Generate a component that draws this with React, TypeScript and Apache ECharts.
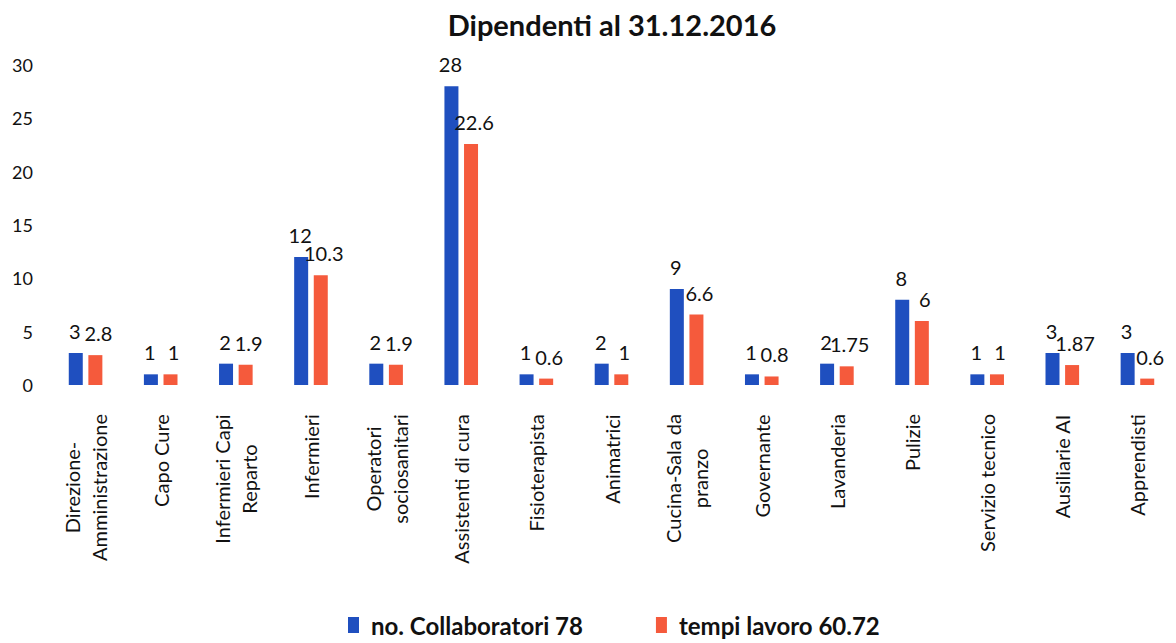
import React, { useEffect, useRef } from "react";
import * as echarts from "echarts";

const categories = [
  "Direzione-\nAmministrazione",
  "Capo Cure",
  "Infermieri Capi\nReparto",
  "Infermieri",
  "Operatori\nsociosanitari",
  "Assistenti di cura",
  "Fisioterapista",
  "Animatrici",
  "Cucina-Sala da\npranzo",
  "Governante",
  "Lavanderia",
  "Pulizie",
  "Servizio tecnico",
  "Ausiliarie AI",
  "Apprendisti",
];
const collaboratori = [3, 1, 2, 12, 2, 28, 1, 2, 9, 1, 2, 8, 1, 3, 3];
const tempiLavoro = [2.8, 1, 1.9, 10.3, 1.9, 22.6, 0.6, 1, 6.6, 0.8, 1.75, 6, 1, 1.87, 0.6];
const seriesNames = ["no. Collaboratori 78", "tempi lavoro 60.72"];
const yTicks = { min: 0, max: 30, interval: 5 };

const FONT = "Lato, 'Open Sans', sans-serif";
const CAT_SIZE = 20;

export default function App() {
  const ref = useRef<HTMLDivElement>(null);
  useEffect(() => {
    if (!ref.current) return;
    const chart = echarts.init(ref.current, null, { renderer: "svg" });
    const canvas = document.createElement("canvas");
    const ctx = canvas.getContext("2d")!;
    ctx.font = `${CAT_SIZE}px Lato`;
    const rich: Record<string, any> = {};
    categories.forEach((c, i) => {
      const w = Math.max(...c.split("\n").map((l) => ctx.measureText(l).width));
      rich["c" + i] = {
        width: Math.ceil(w) + 2,
        align: "center",
        fontSize: CAT_SIZE,
        fontFamily: FONT,
        color: "#111",
        lineHeight: 27,
      };
    });
    const label = {
      show: true,
      position: "top",
      distance: 12,
      fontFamily: FONT,
      fontSize: 20,
      color: "#111",
    };
    chart.setOption({
      animation: false,
      backgroundColor: "#fff",
      title: {
        text: "Dipendenti al 31.12.2016",
        left: 607,
        textAlign: "center",
        top: 5,
        textStyle: { fontFamily: FONT, fontWeight: "bold", fontSize: 29, color: "#111" },
      },
      legend: {
        top: 612,
        left: 348,
        itemWidth: 11,
        itemHeight: 16,
        itemGap: 73,
        icon: "rect",
        padding: 0,
        textStyle: {
          fontFamily: FONT,
          fontWeight: "bold",
          fontSize: 24,
          lineHeight: 26,
          color: "#111",
          padding: [0, 0, 0, 7],
        },
        data: seriesNames,
      },
      grid: { left: 48, right: 1, top: 65, height: 320, containLabel: false },
      xAxis: {
        type: "category",
        data: categories,
        axisLine: { show: false },
        axisTick: { show: false },
        axisLabel: {
          interval: 0,
          rotate: 90,
          margin: 28,
          formatter: (v: string, i: number) =>
            v.split("\n").map((l) => `{c${i}|${l}}`).join("\n"),
          rich,
        },
      },
      yAxis: {
        type: "value",
        min: yTicks.min,
        max: yTicks.max,
        interval: yTicks.interval,
        splitLine: { show: false },
        axisLine: { show: false },
        axisTick: { show: false },
        axisLabel: { fontFamily: FONT, fontSize: 18, color: "#111", margin: 15 },
      },
      series: [
        {
          name: seriesNames[0],
          type: "bar",
          data: collaboratori,
          barWidth: 14,
          barGap: "40%",
          itemStyle: { color: "#1f4fbf" },
          label: { ...label, offset: [-1, 0] },
        },
        {
          name: seriesNames[1],
          type: "bar",
          data: tempiLavoro,
          barWidth: 14,
          itemStyle: { color: "#f55a3c" },
          label: { ...label, offset: [3, 0] },
        },
      ],
    });
    return () => chart.dispose();
  }, []);
  return (
    <div
      ref={ref}
      style={{ position: "fixed", left: 0, top: 0, width: 1176, height: 643, background: "#fff" }}
    />
  );
}
